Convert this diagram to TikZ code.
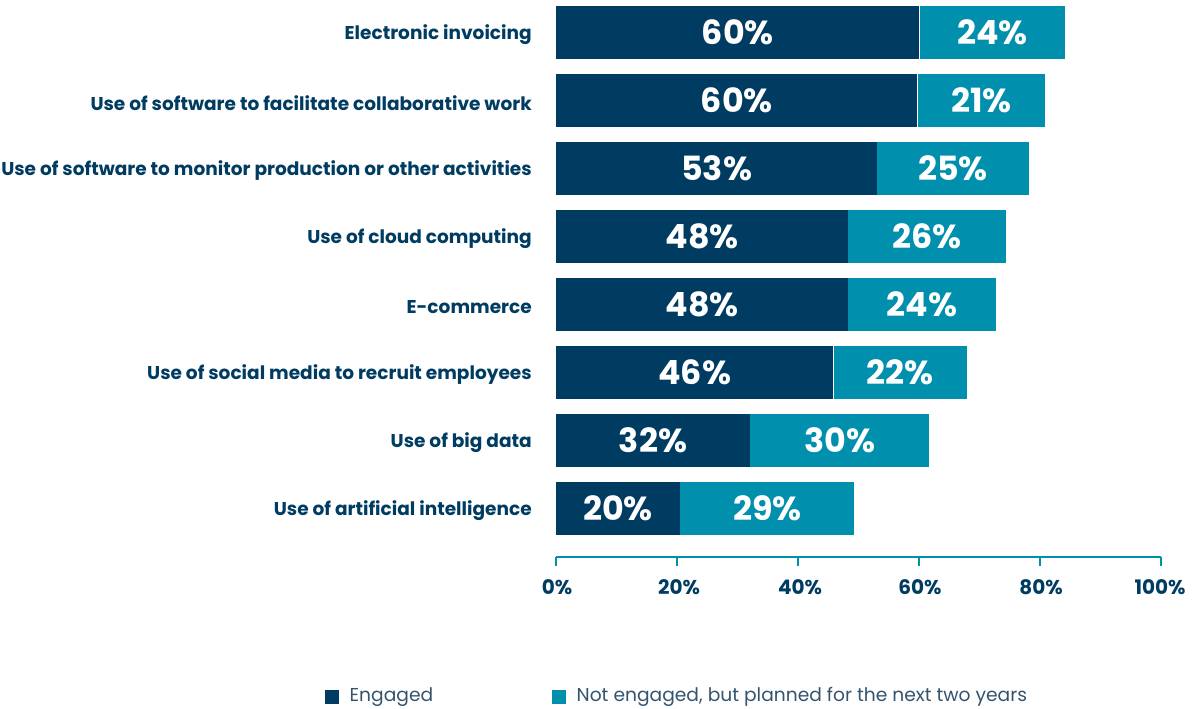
\documentclass[tikz,border=0pt]{standalone}
\usepackage{fontspec}
\setmainfont{Poppins}
\usetikzlibrary{positioning}

\definecolor{navy}{HTML}{003C61}
\definecolor{tealbar}{HTML}{0090AD}
\definecolor{legendtext}{HTML}{34536E}

\tikzstyle{engaged} = [
        rectangle,
        minimum height=39.75pt,
        inner sep=0pt,
        anchor=west,
        fill=navy,
        text=white,
        font=\bfseries\fontsize{25}{25}\selectfont
    ]
\tikzstyle{planned} = [
        rectangle,
        minimum height=39.75pt,
        inner sep=0pt,
        anchor=west,
        fill=tealbar,
        text=white,
        font=\bfseries\fontsize{25}{25}\selectfont
    ]
\tikzstyle{category} = [inner sep=0pt, yshift=-2pt, text=navy, font=\bfseries\fontsize{13.9}{13.9}\selectfont]
\tikzstyle{ticklabel} = [text=navy, font=\bfseries\fontsize{15}{15}\selectfont]
\tikzstyle{axis} = [draw=tealbar, line width=1.5pt]
\tikzstyle{legendbox} = [rectangle, minimum size=11pt, inner sep=0pt]
\tikzstyle{legendlabel} = [text=legendtext, font=\fontsize{14}{14}\selectfont]
\tikzset{len/.style={minimum width=#1*4.5375pt}}

\begin{document}
\begin{tikzpicture}[x=0.75pt, y=-0.75pt]
        \useasboundingbox (0,0) rectangle (1194,708);
        % bars
        \node [engaged, len=60] (eng1) at (556,32) {60\%};
        \node [planned, len=24, right=0pt of eng1] (plan1) {24\%};
        \node [category, left=18pt of eng1] (cat1) {Electronic invoicing};
        \node [engaged, len=59.7] (eng2) at (556,100) {60\%};
        \node [planned, len=21, right=0pt of eng2] (plan2) {21\%};
        \node [category, left=18pt of eng2] (cat2) {Use of software to facilitate collaborative work};
        \node [engaged, len=53] (eng3) at (556,168) {53\%};
        \node [planned, len=25, right=0pt of eng3] (plan3) {25\%};
        \node [category, left=18pt of eng3] (cat3) {Use of software to monitor production or other activities};
        \node [engaged, len=48.2] (eng4) at (556,236) {48\%};
        \node [planned, len=26, right=0pt of eng4] (plan4) {26\%};
        \node [category, left=18pt of eng4] (cat4) {Use of cloud computing};
        \node [engaged, len=48.2] (eng5) at (556,304) {48\%};
        \node [planned, len=24.4, right=0pt of eng5] (plan5) {24\%};
        \node [category, left=18pt of eng5] (cat5) {E-commerce};
        \node [engaged, len=45.8] (eng6) at (556,372) {46\%};
        \node [planned, len=22, right=0pt of eng6] (plan6) {22\%};
        \node [category, left=18pt of eng6] (cat6) {Use of social media to recruit employees};
        \node [engaged, len=32] (eng7) at (556,440) {32\%};
        \node [planned, len=29.6, right=0pt of eng7] (plan7) {30\%};
        \node [category, left=18pt of eng7] (cat7) {Use of big data};
        \node [engaged, len=20.4] (eng8) at (556,508) {20\%};
        \node [planned, len=28.8, right=0pt of eng8] (plan8) {29\%};
        \node [category, left=18pt of eng8] (cat8) {Use of artificial intelligence};
        % axis
        \coordinate (ax0) at (556,557);
        \coordinate (ax100) at (1161,557);
        \draw [axis] (ax0) -- (ax100);
        \foreach \p in {0,20,40,60,80,100}
            \draw [axis] (556+6.05*\p,557) -- (556+6.05*\p,566);
        \node [ticklabel] (t0) at (557,587) {0\%};
        \node [ticklabel] (t20) at (679,587) {20\%};
        \node [ticklabel] (t40) at (800,587) {40\%};
        \node [ticklabel] (t60) at (920,587) {60\%};
        \node [ticklabel] (t80) at (1041,587) {80\%};
        \node [ticklabel] (t100) at (1160,587) {100\%};
        % legend
        \node [legendbox, fill=navy] (keyeng) at (332,697) {};
        \node [legendlabel, right=4pt of keyeng] {Engaged};
        \node [legendbox, fill=tealbar] (keyplan) at (559,697) {};
        \node [legendlabel, right=4pt of keyplan] {Not engaged, but planned for the next two years};
    \end{tikzpicture}
\end{document}
